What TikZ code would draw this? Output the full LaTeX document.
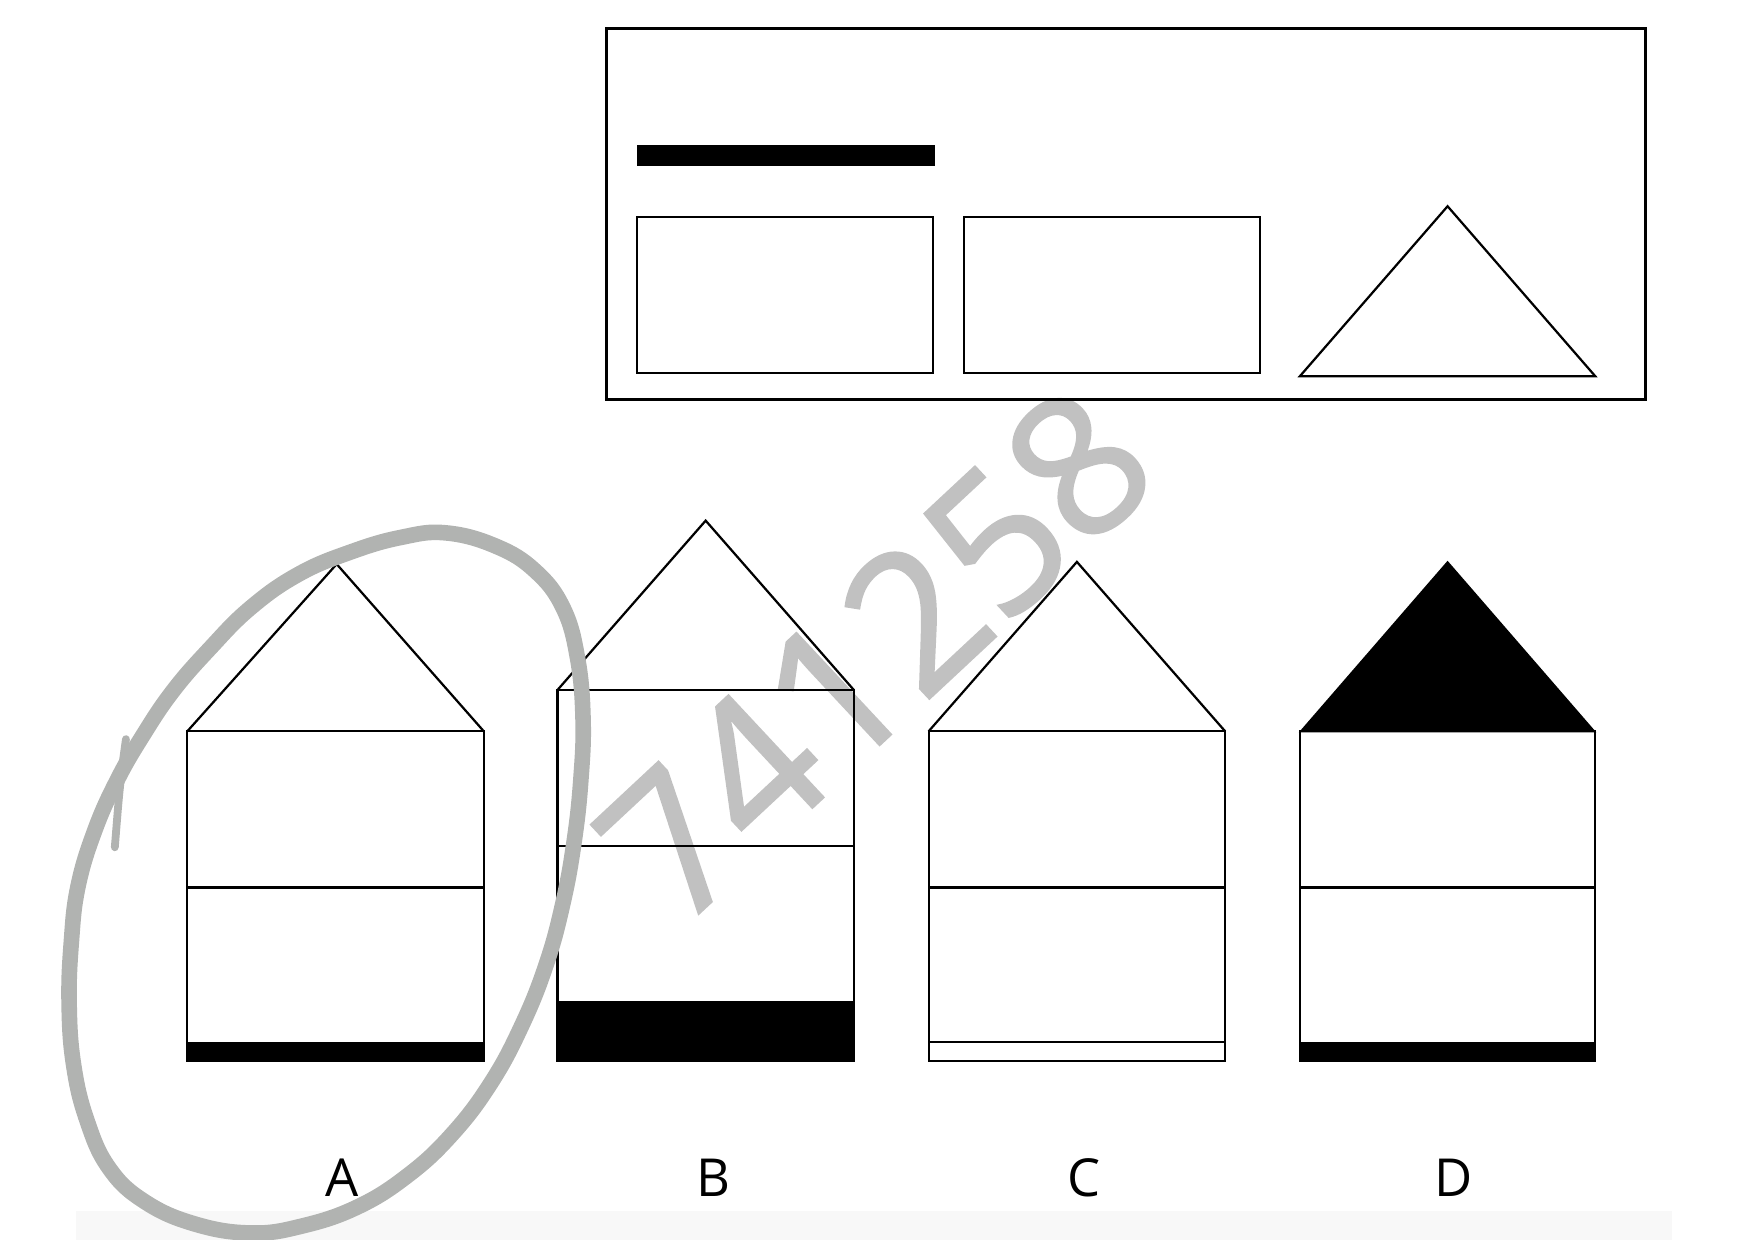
\documentclass[tikz,border=0pt]{standalone}
\usepackage{fontspec}
\setmainfont{Open Sans}
\newfontfamily\wmfont[FakeBold=1.2]{Open Sans}
\definecolor{wmgray}{HTML}{C1C1C1}
\definecolor{circgray}{HTML}{B1B3B1}
\definecolor{bandgray}{HTML}{F8F8F8}
\tikzset{
  hl/.style={line width=2pt, line join=miter},
  boxline/.style={line width=3.2pt},
  circstroke/.style={draw=circgray, line width=14pt, line cap=round, line join=round},
  lab/.style={font=\fontsize{47}{47}\selectfont, anchor=base, inner sep=0pt},
  wmark/.style={text=wmgray, font=\wmfont\fontsize{174}{174}\selectfont, rotate=43, inner sep=0pt}
}
\begin{document}
\begin{tikzpicture}[x=1pt,y=-1pt]
\useasboundingbox (0,0) rectangle (1568,1112);
% faint band at the bottom
\fill[bandgray] (68,1086) rectangle (1500,1112);
% watermark
\node[wmark] (wm) at (785,587) {741258};
% top panel
\draw[boxline] (544,25.5) rectangle (1476,358.5);
\fill (571,130) rectangle (839,149);
\draw[hl] (571.5,194.5) rectangle (837,334.5);
\draw[hl] (864.5,194.5) rectangle (1130,334.5);
\draw[hl] (1166,337.5) -- (1298.5,185) -- (1431,337.5) -- cycle;
% house A
\draw[hl] (168,656) rectangle (434,952);
\draw[hl] (168,656) -- (302,506) -- (434,656);
\draw[hl] (168,796) -- (434,796);
\fill (167,935) rectangle (435,953);
% house B
\draw[hl] (500,619) rectangle (766,952);
\draw[hl] (500,619) -- (633,467) -- (766,619);
\draw[hl] (500,759) -- (766,759);
\fill (499,898) rectangle (767,953);
% house C
\draw[hl] (833,656) rectangle (1099,952);
\draw[hl] (833,656) -- (966,504) -- (1099,656);
\draw[hl] (833,796) -- (1099,796);
\draw[hl] (833,935) -- (1099,935);
% house D
\fill (1165,657) -- (1298.5,503) -- (1432,657) -- cycle;
\draw[hl] (1166,656) rectangle (1431,952);
\draw[hl] (1166,796) -- (1431,796);
\fill (1165,935) rectangle (1432,953);
% labels
\node[lab] (la) at (307,1073) {A};
\node[lab] (lb) at (640,1073) {B};
\node[lab] (lc) at (972,1073) {C};
\node[lab] (ld) at (1304,1073) {D};
% hand-drawn circle around A
\draw[circstroke] plot[smooth cycle, tension=0.7] coordinates {
 (400,478) (445,490) (480,512) (505,545) (518,590) (523,645) (521,700)
 (515,755) (505,810) (490,865) (468,920) (440,972) (405,1018) (365,1055)
 (320,1083) (270,1100) (225,1106) (175,1098) (130,1078) (98,1048)
 (78,1005) (66,955) (62,900) (64,845) (70,795) (85,745) (105,700)
 (128,660) (155,620) (188,582) (225,545) (268,515) (315,495) (360,482)};
\draw[draw=circgray, line width=7pt, line cap=round] plot[smooth] coordinates {
 (113,663) (110,685) (107,712) (105,735) (103,760)};
\end{tikzpicture}
\end{document}
